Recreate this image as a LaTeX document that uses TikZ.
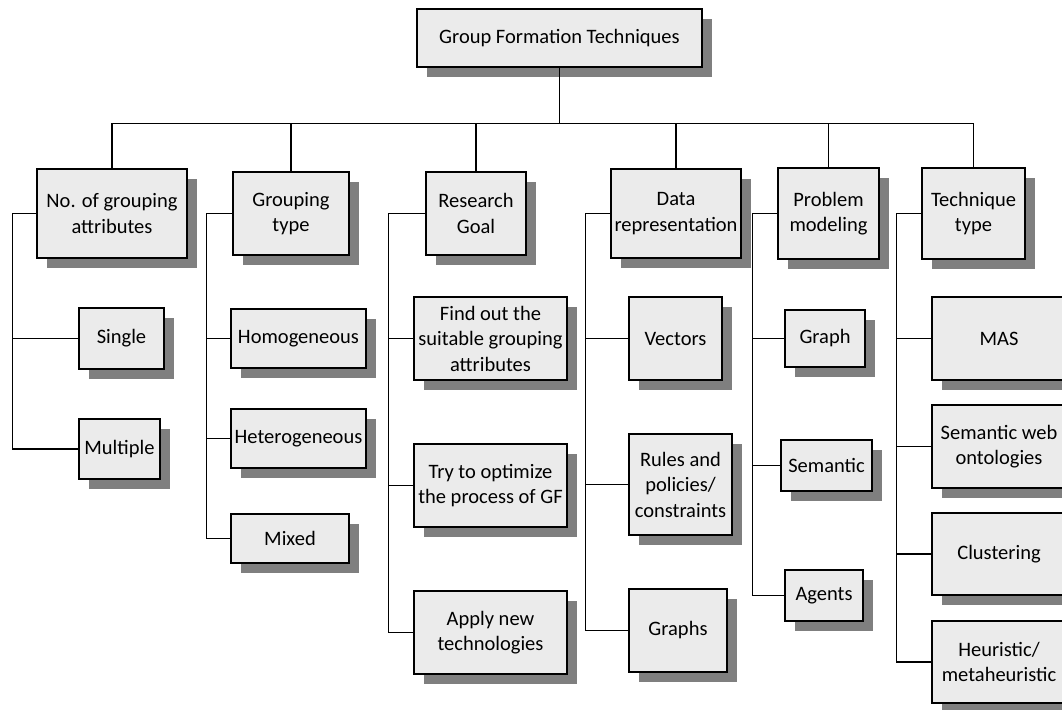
\documentclass[tikz,border=0pt]{standalone}
\usepackage{fontspec}
\setmainfont{Carlito}
\usetikzlibrary{shadows}
\definecolor{boxfill}{HTML}{EBEBEB}
\definecolor{shadowgray}{HTML}{7F7F7F}
\tikzset{
  gbox/.style={draw=black, line width=1.3pt, fill=boxfill, inner sep=0pt, align=center,
    font=\fontsize{20.5}{25.5}\selectfont,
    drop shadow={shadow xshift=10pt, shadow yshift=-10pt, fill=shadowgray, opacity=1}},
  link/.style={draw=black, line width=1.1pt},
  trunk/.style={draw=black, line width=1.8pt},
}
\newcommand{\bx}[6]{\node[gbox, minimum width=#4pt, minimum height=#5pt] (#1) at (#2,#3) {#6};}
\begin{document}
\begin{tikzpicture}[x=1pt,y=-1pt]
\useasboundingbox (0,0) rectangle (1062,709);
\clip (0,0) rectangle (1062,709);
% top
\bx{top}{559.5}{38}{285}{58}{Group Formation Techniques}
% level 1
\bx{c1}{112}{213.5}{150}{89}{No. of grouping\\attributes}
\bx{c2}{291}{213.5}{116}{83}{Grouping\\type}
\bx{c3}{476}{213.5}{100}{83}{Research\\Goal}
\bx{c4}{676}{213.5}{130}{89}{Data\\representation}
\bx{c5}{828.5}{213.5}{101}{91}{Problem\\modeling}
\bx{c6}{973.5}{213.5}{103}{91}{Technique\\type}
% group 1
\bx{single}{121.5}{338.5}{85}{61}{Single}
\bx{multiple}{119.5}{449}{81}{60}{Multiple}
% group 2
\bx{homog}{298.5}{338.5}{135}{59}{Homogeneous}
\bx{heterog}{298.5}{438.5}{135}{59}{Heterogeneous}
\bx{mixed}{290}{538.5}{118}{49}{Mixed}
% group 3
\bx{findout}{490.5}{338.5}{153}{83}{Find out the\\suitable grouping\\attributes}
\bx{tryopt}{490.5}{485.5}{153}{83}{Try to optimize\\the process of GF}
\bx{applynew}{490.5}{632.5}{153}{83}{Apply new\\technologies}
% group 4
\bx{vectors}{675.5}{338.5}{93}{83}{Vectors}
\bx{rules}{680.5}{484.5}{103}{101}{Rules and\\policies/\\constraints}
\bx{graphs}{678}{630.5}{98}{83}{Graphs}
% group 5
\bx{graph}{825}{338.5}{80}{57}{Graph}
\bx{semantic}{826.5}{465.5}{91}{51}{Semantic}
\bx{agents}{824}{595.5}{78}{51}{Agents}
% group 6
\bx{mas}{999}{338.5}{134}{83}{MAS}
\bx{sweb}{999}{446.5}{134}{83}{Semantic web\\ontologies}
\bx{clust}{999}{554}{134}{82}{Clustering}
\bx{heur}{999}{662}{134}{82}{Heuristic/\\metaheuristic}
% trunk and bus
\draw[trunk] (top.south) -- ++(0,56) coordinate (bus);
\draw[link] (c1.north) |- (bus) -| (c6.north);
\foreach \n in {c2,c3,c4,c5} \draw[link] (\n.north) -- (\n.north |- bus);
% side connectors
\draw[trunk] (c1.west) -- ++(-24,0) coordinate (s1);
\foreach \n in {single,multiple} \draw[link] (s1) |- (\n.west);
\draw[trunk] (c2.west) -- ++(-26,0) coordinate (s2);
\foreach \n in {homog,heterog,mixed} \draw[link] (s2) |- (\n.west);
\draw[trunk] (c3.west) -- ++(-37,0) coordinate (s3);
\foreach \n in {findout,tryopt,applynew} \draw[link] (s3) |- (\n.west);
\draw[trunk] (c4.west) -- ++(-25,0) coordinate (s4);
\foreach \n in {vectors,rules,graphs} \draw[link] (s4) |- (\n.west);
\draw[trunk] (c5.west) -- ++(-25,0) coordinate (s5);
\foreach \n in {graph,semantic,agents} \draw[link] (s5) |- (\n.west);
\draw[trunk] (c6.west) -- ++(-25,0) coordinate (s6);
\foreach \n in {mas,sweb,clust,heur} \draw[link] (s6) |- (\n.west);
\end{tikzpicture}
\end{document}
